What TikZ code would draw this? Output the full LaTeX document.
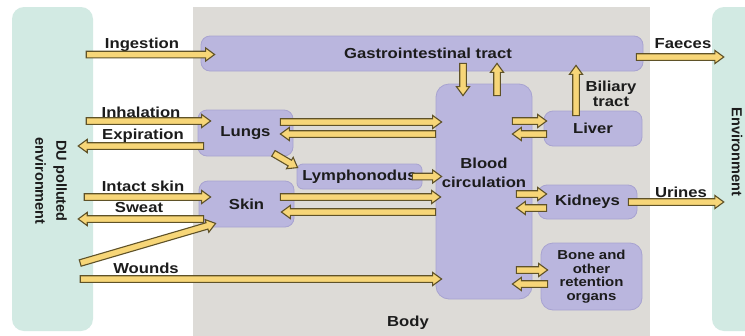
\documentclass[tikz,border=0pt]{standalone}
\usepackage{fontspec}
\setmainfont{Liberation Sans}[FakeStretch=1.15]
\newfontfamily\plainsans{Liberation Sans}
\usetikzlibrary{calc}
\definecolor{envcol}{RGB}{210,234,227}
\definecolor{bodycol}{RGB}{221,219,215}
\definecolor{organcol}{RGB}{186,182,222}
\definecolor{organline}{RGB}{168,163,208}
\definecolor{arrfill}{RGB}{247,214,120}
\definecolor{arrline}{RGB}{95,82,40}
\definecolor{txtcol}{RGB}{28,28,28}
\newcommand\fatarr[2]{%
  \path (#1) coordinate (fa-s) (#2) coordinate (fa-e);
  \path ($(fa-e)!9pt!(fa-s)$) coordinate (fa-h);
  \filldraw[fatarrow] ($(fa-s)!3.3pt!90:(fa-e)$) -- ($(fa-h)!3.3pt!-90:(fa-s)$)
    -- ($(fa-h)!6.6pt!-90:(fa-s)$) -- (fa-e) -- ($(fa-h)!6.6pt!90:(fa-s)$)
    -- ($(fa-h)!3.3pt!90:(fa-s)$) -- ($(fa-s)!3.3pt!-90:(fa-e)$) -- cycle;
}
\begin{document}
\begin{tikzpicture}[x=1pt,y=-1pt,
  organ/.style={rectangle, rounded corners=9pt, fill=organcol, draw=organline, line width=0.8pt,
    inner sep=0pt, text=txtcol, font=\bfseries\fontsize{14.5}{19}\selectfont, align=center},
  env/.style={rectangle, rounded corners=12pt, fill=envcol, draw=none, inner sep=0pt},
  lbl/.style={text=txtcol, font=\bfseries\fontsize{14.5}{17}\selectfont, align=center, inner sep=0pt},
  rotlbl/.style={text=txtcol, font=\plainsans\bfseries\fontsize{14.5}{21}\selectfont, align=center, inner sep=0pt, rotate=-90},
  fatarrow/.style={fill=arrfill, draw=arrline, line width=1.1pt, line join=miter}]
\useasboundingbox (0,0) rectangle (745,335);
\fill[white] (0,0) rectangle (745,335);
% environments and body
\node[env, minimum width=81, minimum height=324] (envL) at (52.5,169) {};
\node[env, minimum width=60, minimum height=324] (envR) at (742,169) {};
\fill[bodycol] (193,7) rectangle (650,340);
\node[lbl] (body) at (408,323) {Body};
\node[rotlbl] (envLtxt) at (51,181) {DU polluted\\environment};
\node[rotlbl] (envRtxt) at (737,152) {Environment};
% organs
\node[organ, minimum width=442, minimum height=35] (gi) at (422,53.5) {\hspace*{12pt}Gastrointestinal tract};
\node[organ, minimum width=95, minimum height=46] (lungs) at (245.5,133) {Lungs};
\node[organ, minimum width=125, minimum height=25, rounded corners=6pt] (lympho) at (359.5,176.5) {Lymphonodus};
\node[organ, minimum width=95, minimum height=46] (skin) at (246.5,204) {Skin};
\node[organ, minimum width=96, minimum height=215, rounded corners=13pt] (blood) at (484,191.5) {};
\node[lbl, font=\bfseries\fontsize{14.5}{19}\selectfont] (bloodtxt) at (484,172.5) {Blood\\circulation};
\node[organ, minimum width=98, minimum height=35] (liver) at (593,128.5) {Liver};
\node[organ, minimum width=99, minimum height=34] (kidneys) at (587.5,202) {Kidneys};
\node[organ, minimum width=101, minimum height=67, rounded corners=12pt,
  font=\bfseries\fontsize{13}{13.5}\selectfont] (bone) at (591.5,276.5) {Bone and\\other\\retention\\organs};
% labels
\node[lbl] (l-ing) at (142,45) {Ingestion};
\node[lbl] (l-inh) at (141,112) {Inhalation};
\node[lbl] (l-exp) at (143,136) {Expiration};
\node[lbl] (l-int) at (143,186) {Intact skin};
\node[lbl] (l-swe) at (139,208) {Sweat};
\node[lbl] (l-wou) at (146,268) {Wounds};
\node[lbl] (l-fae) at (683,44) {Faeces};
\node[lbl] (l-uri) at (681,192) {Urines};
\node[lbl, font=\bfseries\fontsize{14.5}{15}\selectfont] (l-bil) at (611,94) {Biliary\\tract};
% arrows
\fatarr{$(envL.east |- gi.west)+(-7,1)$}{$(gi.west)+(14,1)$}
\fatarr{$(envL.east |- lungs.west)+(-7,-12)$}{$(lungs.west)+(13,-12)$}
\fatarr{$(lungs.west)+(6,13)$}{$(envL.east |- lungs.west)+(-15,13)$}
\fatarr{$(envL.east |- skin.west)+(-9,-7)$}{$(skin.west)+(12,-7)$}
\fatarr{$(skin.west)+(5,15)$}{$(envL.east |- skin.west)+(-15,15)$}
\fatarr{$(envL.east |- skin.west)+(-13,59)$}{$(skin.south west)+(17,-4)$}
\fatarr{$(envL.east)+(-13,110)$}{$(blood.west)+(6,87.5)$}
\fatarr{$(lungs.east)+(-13,-11)$}{$(blood.west |- lungs.east)+(6,-11)$}
\fatarr{$(blood.west |- lungs.east)+(0,1)$}{$(lungs.east)+(-13,1)$}
\fatarr{$(lungs.south east)+(-20,-3)$}{$(lympho.north west)+(1,4)$}
\fatarr{$(lympho.east)+(-10,0)$}{$(blood.west |- lympho.east)+(6,0)$}
\fatarr{$(skin.east)+(-14,-7)$}{$(blood.west |- skin.east)+(5,-7)$}
\fatarr{$(blood.west |- skin.east)+(0,8)$}{$(skin.east)+(-13,8)$}
\fatarr{$(gi.south -| blood.north)+(-21,-8)$}{$(blood.north)+(-21,12)$}
\fatarr{$(blood.north)+(13,12)$}{$(gi.south -| blood.north)+(13,-8)$}
\fatarr{$(blood.east |- liver.west)+(-20,-7.5)$}{$(liver.west)+(3,-7.5)$}
\fatarr{$(liver.west)+(3,5.5)$}{$(blood.east |- liver.west)+(-20,5.5)$}
\fatarr{$(liver.north)+(-17,5)$}{$(gi.south -| liver.north)+(-17,-6)$}
\fatarr{$(gi.east)+(-7,3.5)$}{$(envR.west |- gi.east)+(12,3.5)$}
\fatarr{$(blood.east |- kidneys.west)+(-16,-8)$}{$(kidneys.west)+(9,-8)$}
\fatarr{$(kidneys.west)+(9,6)$}{$(blood.east |- kidneys.west)+(-16,6)$}
\fatarr{$(kidneys.east)+(-9,0)$}{$(envR.west |- kidneys.east)+(12,0)$}
\fatarr{$(blood.east |- bone.west)+(-16,-6.5)$}{$(bone.west)+(7,-6.5)$}
\fatarr{$(bone.west)+(7,7.5)$}{$(blood.east |- bone.west)+(-20,7.5)$}
\end{tikzpicture}
\end{document}
